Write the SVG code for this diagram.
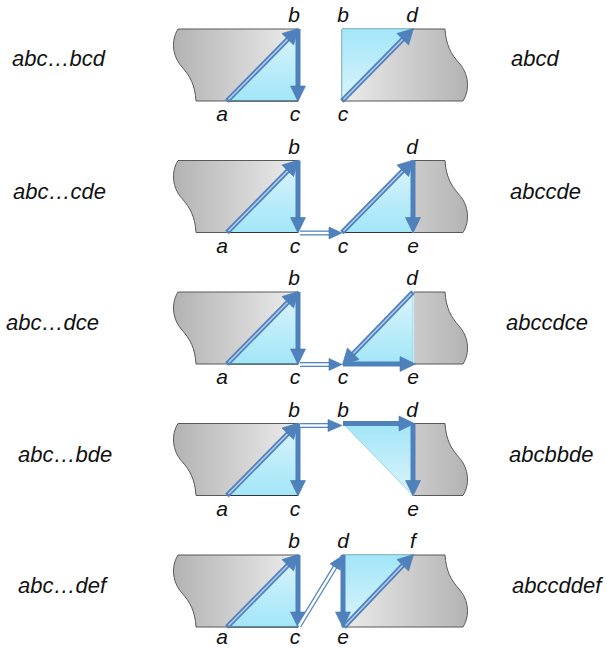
<svg xmlns="http://www.w3.org/2000/svg" xmlns:xlink="http://www.w3.org/1999/xlink" width="607" height="648" viewBox="0 0 607 648">
  <style>
    .lbl { font-family: "Liberation Sans", Arial, sans-serif; font-style: italic; font-size: 22px; fill: #111; }
    .vx { font-family: "Liberation Sans", Arial, sans-serif; font-style: italic; font-size: 21px; fill: #111; text-anchor: middle; }
    .edge { fill: none; stroke: #595959; stroke-width: 1; }
    .base { stroke: #333; stroke-width: 1; }
    .tri { stroke: #7fcfe3; stroke-width: 0.8; stroke-linejoin: round; }
    .shaft { stroke: #4f81bd; stroke-width: 5; fill: none; }
    .core { stroke: #b3cbe8; stroke-width: 1.6; fill: none; }
    .head { fill: #4f81bd; stroke: #4777b0; stroke-width: 0.6; stroke-linejoin: round; }
    .dbl { stroke: #5585c3; stroke-width: 5; fill: none; }
    .gap { stroke: #ffffff; stroke-width: 2.4; fill: none; }
  </style>
  <defs>
    <linearGradient id="greyL" gradientUnits="userSpaceOnUse" x1="172" y1="0" x2="298" y2="0">
      <stop offset="0" stop-color="#b2b2b2"/>
      <stop offset="1" stop-color="#ececec"/>
    </linearGradient>
    <linearGradient id="greyR" gradientUnits="userSpaceOnUse" x1="342" y1="0" x2="470" y2="0">
      <stop offset="0" stop-color="#ececec"/>
      <stop offset="1" stop-color="#b2b2b2"/>
    </linearGradient>
    <linearGradient id="triUp" x1="0" y1="0" x2="0" y2="1">
      <stop offset="0" stop-color="#dcf4fb"/>
      <stop offset="1" stop-color="#a2e6f8"/>
    </linearGradient>
    <linearGradient id="triDown" x1="0" y1="0" x2="0" y2="1">
      <stop offset="0" stop-color="#a2e6f8"/>
      <stop offset="1" stop-color="#dcf4fb"/>
    </linearGradient>
    <!-- left plate with curved break on its left side -->
    <path id="plateL" d="M178,29 H298 V101 H196 C195,85 190,76 182,67 C172,56 171,40 178,29 Z"/>
    <!-- right plate (wide) with curved break on its right side -->
    <path id="plateRWide" d="M342,29 H445 C446,45 451,54 459,63 C469,74 470,90 463,101 H342 Z"/>
    <path id="plateRNarrowFill" d="M414,29 H445 C446,45 451,54 459,63 C469,74 470,90 463,101 H414 Z"/>
    <path id="plateRNarrowEdge" d="M414,29 H445 C446,45 451,54 459,63 C469,74 470,90 463,101 H414"/>
    <!-- left half: plate, triangle a-b-c -->
    <g id="leftHalf">
      <use xlink:href="#plateL" class="edge" style="fill:url(#greyL)"/>
      <polygon class="tri" points="227,101 298,29 298,101" fill="url(#triUp)"/>
      <line class="base" x1="227" y1="101" x2="298" y2="101"/>
      <text class="vx" x="294" y="22">b</text>
    </g>
    <g id="leftBottomLabels">
      <text class="vx" x="222" y="121">a</text>
      <text class="vx" x="295" y="121">c</text>
    </g>
    <!-- arrows a→b and b→c of the left half -->
    <g id="leftArrows">
      <line class="shaft" x1="227" y1="101" x2="289" y2="38"/>
      <line class="core" x1="228.5" y1="99.5" x2="289" y2="38"/>
      <polygon class="head" points="298.5,28.5 293.6,45 281.9,33.5"/>
      <line class="shaft" x1="298" y1="29" x2="298" y2="87"/>
      <polygon class="head" points="298,101.5 290.5,86 305.5,86"/>
    </g>
  </defs>

  <!-- row captions -->
  <g id="captions">
    <text class="lbl" x="12" y="66">abc…bcd</text>
    <text class="lbl" x="511" y="66">abcd</text>
    <text class="lbl" x="13" y="198.5">abc…cde</text>
    <text class="lbl" x="510" y="198.5">abccde</text>
    <text class="lbl" x="6" y="330">abc…dce</text>
    <text class="lbl" x="506" y="330">abccdce</text>
    <text class="lbl" x="18" y="461.5">abc…bde</text>
    <text class="lbl" x="509" y="461.5">abcbbde</text>
    <text class="lbl" x="18" y="593">abc…def</text>
    <text class="lbl" x="512" y="593">abccddef</text>
  </g>

  <!-- row 1 -->
  <g id="row1-left"><use xlink:href="#leftHalf"/><use xlink:href="#leftBottomLabels"/></g>
  <g id="row1-right">
    <use xlink:href="#plateRWide" style="fill:url(#greyR)" class="edge"/>
    <polygon class="tri" points="342,29 413,29 342,101" fill="url(#triDown)"/>
    <text class="vx" x="343" y="22">b</text>
    <text class="vx" x="412" y="22">d</text>
    <text class="vx" x="343" y="121">c</text>
  </g>

  <!-- row 2 -->
  <g id="row2-left" transform="translate(0,131.5)"><use xlink:href="#leftHalf"/><use xlink:href="#leftBottomLabels"/></g>
  <g id="row2-right" transform="translate(0,131.5)">
    <use xlink:href="#plateRNarrowFill" style="fill:url(#greyR)"/>
    <use xlink:href="#plateRNarrowEdge" class="edge"/>
    <polygon class="tri" points="342,101 413,29 413,101" fill="url(#triUp)"/>
    <line class="base" x1="342" y1="101" x2="413" y2="101"/>
    <text class="vx" x="412" y="22">d</text>
    <text class="vx" x="343" y="121">c</text>
    <text class="vx" x="413" y="121">e</text>
  </g>

  <!-- row 3 -->
  <g id="row3-left" transform="translate(0,263)"><use xlink:href="#leftHalf"/><use xlink:href="#leftBottomLabels"/></g>
  <g id="row3-right" transform="translate(0,263)">
    <use xlink:href="#plateRNarrowFill" style="fill:url(#greyR)"/>
    <use xlink:href="#plateRNarrowEdge" class="edge"/>
    <polygon class="tri" points="342,101 413,29 413,101" fill="url(#triUp)"/>
    <text class="vx" x="412" y="22">d</text>
    <text class="vx" x="343" y="121">c</text>
    <text class="vx" x="413" y="121">e</text>
  </g>

  <!-- row 4 -->
  <g id="row4-left" transform="translate(0,394.5)"><use xlink:href="#leftHalf"/><use xlink:href="#leftBottomLabels"/></g>
  <g id="row4-right" transform="translate(0,394.5)">
    <use xlink:href="#plateRNarrowFill" style="fill:url(#greyR)"/>
    <use xlink:href="#plateRNarrowEdge" class="edge"/>
    <polygon class="tri" points="343,29 413,29 413,101" fill="url(#triDown)"/>
    <text class="vx" x="343" y="22">b</text>
    <text class="vx" x="412" y="22">d</text>
    <text class="vx" x="413" y="121">e</text>
  </g>

  <!-- row 5: bottom labels sit a little higher to stay inside the canvas -->
  <g id="row5-left" transform="translate(0,526)">
    <use xlink:href="#leftHalf"/>
    <text class="vx" x="222" y="118">a</text>
    <text class="vx" x="295" y="118">c</text>
  </g>
  <g id="row5-right" transform="translate(0,526)">
    <use xlink:href="#plateRWide" style="fill:url(#greyR)" class="edge"/>
    <polygon class="tri" points="342,29 413,29 342,101" fill="url(#triDown)"/>
    <text class="vx" x="343" y="22">d</text>
    <text class="vx" x="413" y="22">f</text>
    <text class="vx" x="343" y="118">e</text>
  </g>

  <!-- arrows and links between the halves -->
  <g id="connectors">
    <g id="row1-arrows">
      <use xlink:href="#leftArrows"/>
      <line class="shaft" x1="342" y1="101" x2="404" y2="38"/>
      <line class="core" x1="343.5" y1="99.5" x2="404" y2="38"/>
      <polygon class="head" points="413.5,28.5 408.6,45 396.9,33.5"/>
    </g>
    <g id="row2-arrows" transform="translate(0,131.5)">
      <use xlink:href="#leftArrows"/>
      <line class="dbl" x1="300" y1="101.5" x2="331" y2="101.5"/>
      <line class="gap" x1="300" y1="101.5" x2="331" y2="101.5"/>
      <polygon class="head" points="342,101.5 329,95.5 329,107.5"/>
      <line class="shaft" x1="342" y1="101" x2="404" y2="38"/>
      <line class="core" x1="343.5" y1="99.5" x2="404" y2="38"/>
      <polygon class="head" points="413.5,28.5 408.6,45 396.9,33.5"/>
      <line class="shaft" x1="413" y1="29" x2="413" y2="87"/>
      <polygon class="head" points="413,101.5 405.5,86 420.5,86"/>
    </g>
    <g id="row3-arrows" transform="translate(0,263)">
      <use xlink:href="#leftArrows"/>
      <line class="dbl" x1="300" y1="101.5" x2="331" y2="101.5"/>
      <line class="gap" x1="300" y1="101.5" x2="331" y2="101.5"/>
      <polygon class="head" points="342,101.5 329,95.5 329,107.5"/>
      <line class="shaft" x1="413" y1="29" x2="352" y2="92"/>
      <line class="core" x1="411.5" y1="30.5" x2="352" y2="92"/>
      <polygon class="head" points="342.5,101.5 347.4,85 359.1,96.5"/>
      <line class="shaft" x1="343" y1="101" x2="401" y2="101"/>
      <polygon class="head" points="415.5,101 400,93.5 400,108.5"/>
    </g>
    <g id="row4-arrows" transform="translate(0,394.5)">
      <use xlink:href="#leftArrows"/>
      <line class="dbl" x1="300" y1="31" x2="330" y2="31"/>
      <line class="gap" x1="300" y1="31" x2="330" y2="31"/>
      <polygon class="head" points="342,31 328,25 328,37"/>
      <line class="shaft" x1="343" y1="29" x2="400" y2="29"/>
      <polygon class="head" points="414.5,29 399,21.5 399,36.5"/>
      <line class="shaft" x1="413" y1="29" x2="413" y2="87"/>
      <polygon class="head" points="413,101.5 405.5,86 420.5,86"/>
    </g>
    <g id="row5-arrows" transform="translate(0,526)">
      <use xlink:href="#leftArrows"/>
      <line class="dbl" x1="299" y1="100" x2="336.1" y2="39.3"/>
      <line class="gap" x1="299" y1="100" x2="336.1" y2="39.3"/>
      <polygon class="head" points="342,30 340.2,44.2 330,37.8"/>
      <line class="shaft" x1="343" y1="29" x2="343" y2="87"/>
      <polygon class="head" points="343,101.5 335.5,86 350.5,86"/>
      <line class="shaft" x1="344" y1="101" x2="404" y2="38"/>
      <line class="core" x1="345.5" y1="99.5" x2="404" y2="38"/>
      <polygon class="head" points="413.5,28.5 408.6,45 396.9,33.5"/>
    </g>
  </g>
</svg>
